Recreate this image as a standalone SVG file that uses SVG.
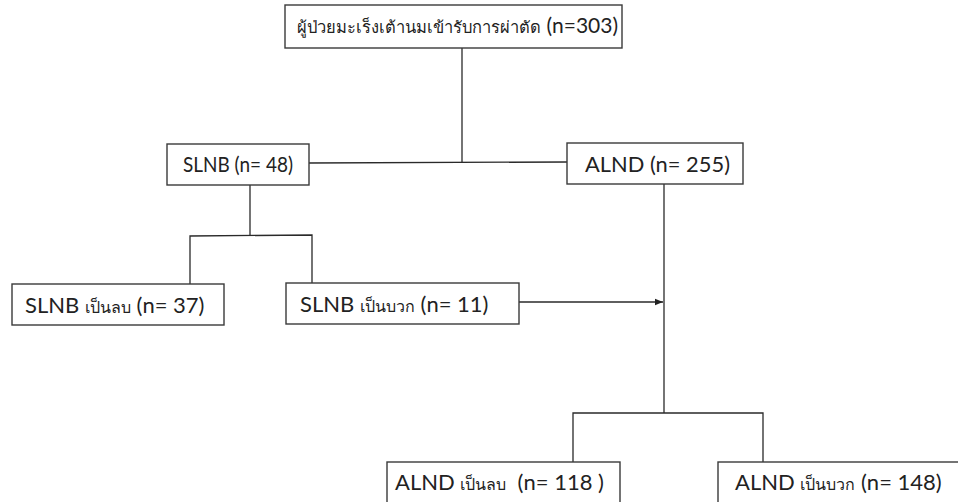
<svg xmlns="http://www.w3.org/2000/svg" width="958" height="502" viewBox="0 0 958 502">
<defs>
<style>
.box{fill:#fff;stroke:#3a3a3a;stroke-width:1.4}
.ln{fill:none;stroke:#2a2a2a;stroke-width:1.3}
.t{font-family:"Lato","Liberation Sans","Noto Sans","Noto Sans CJK SC",sans-serif;font-size:21px;fill:#222;white-space:pre}
.lg{font-size:22px}
.th{font-size:16px}
.thb{font-size:16.5px}
</style>
<marker id="ah" viewBox="0 0 10 10" refX="10" refY="5" markerWidth="8" markerHeight="8" markerUnits="userSpaceOnUse" orient="auto">
<path d="M0,1 L10,5 L0,9 Z" fill="#222"/>
</marker>
</defs>
<rect width="958" height="502" fill="#fff"/>
<g id="connectors">
<line class="ln" x1="462" y1="48" x2="462" y2="163"/>
<line class="ln" x1="309" y1="163" x2="567" y2="162"/>
<line class="ln" x1="250" y1="184" x2="250" y2="235"/>
<polyline class="ln" points="190,284 190,236 312,235 312,283"/>
<line class="ln" x1="519" y1="302" x2="663" y2="302" marker-end="url(#ah)"/>
<line class="ln" x1="664" y1="184" x2="664" y2="413"/>
<polyline class="ln" points="573,462 573,413 763,413 763,462"/>
</g>
<g id="n0">
<rect class="box" x="285" y="5" width="337" height="43"/>
<text class="t" x="297" y="33"><tspan class="thb">ผู้ป่วยมะเร็งเต้านมเข้ารับการผ่าตัด</tspan> (n=303)</text>
</g>
<g id="n1">
<rect class="box" x="167" y="144" width="142" height="41"/>
<text class="t" x="183" y="172" textLength="110" lengthAdjust="spacingAndGlyphs">SLNB (n= 48)</text>
</g>
<g id="n2">
<rect class="box" x="567" y="143" width="176" height="41"/>
<text class="t" x="585" y="172" textLength="145" lengthAdjust="spacingAndGlyphs">ALND (n= 255)</text>
</g>
<g id="n3">
<rect class="box" x="12" y="284" width="212" height="41"/>
<text class="t lg" x="25" y="313">SLNB <tspan class="th">เป็นลบ</tspan> (n= 37)</text>
</g>
<g id="n4">
<rect class="box" x="286" y="283" width="233" height="41"/>
<text class="t lg" x="300" y="312">SLNB <tspan class="th">เป็นบวก</tspan> (n= 11)</text>
</g>
<g id="n5">
<rect class="box" x="387" y="462" width="233" height="50"/>
<text class="t lg" x="395" y="490">ALND <tspan class="th">เป็นลบ</tspan>  (n= 118 )</text>
</g>
<g id="n6">
<rect class="box" x="718" y="462" width="250" height="50"/>
<text class="t lg" x="735" y="490">ALND <tspan class="th">เป็นบวก</tspan> (n= 148)</text>
</g>
</svg>
